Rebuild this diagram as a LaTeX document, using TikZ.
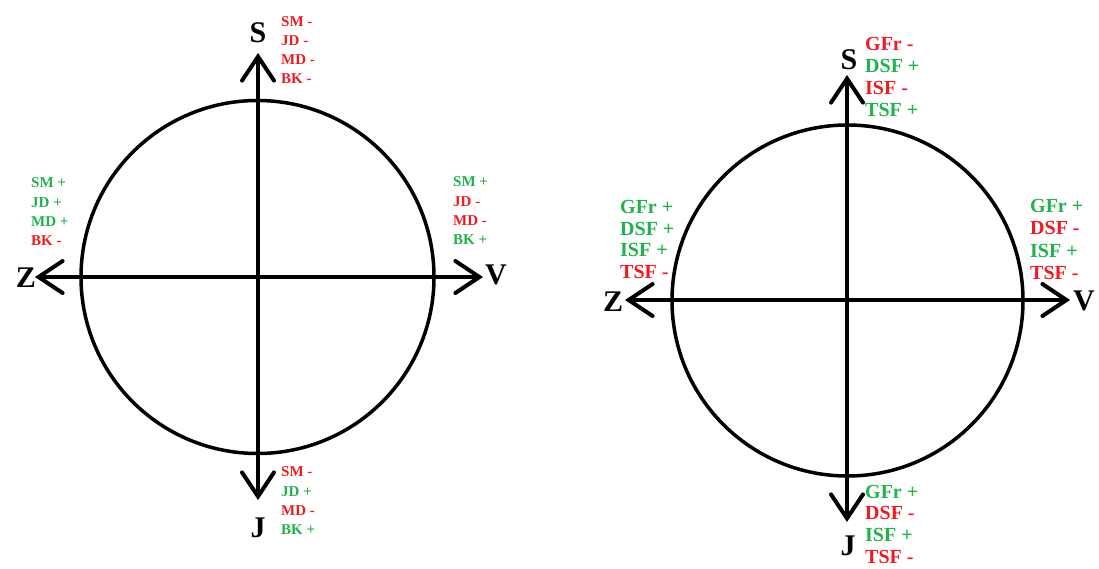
\documentclass[tikz,border=0pt]{standalone}
\usepackage{fontspec}
\setmainfont{Liberation Serif}
\usetikzlibrary{arrows.meta}
\definecolor{pred}{RGB}{237,28,36}
\definecolor{pgreen}{RGB}{34,177,76}
\begin{document}
\begin{tikzpicture}[x=1pt,y=-1pt,
  axis/.style={line width=4pt,{Straight Barb[length=24pt,width=32pt,line cap=round]}-{Straight Barb[length=24pt,width=32pt,line cap=round]}},
  ring/.style={circle,draw,line width=3.5pt,inner sep=0pt},
  big/.style={inner sep=0pt,font=\bfseries\fontsize{30}{30}\selectfont},
  lblA/.style={anchor=west,inner sep=0pt,font=\bfseries\fontsize{15}{15}\selectfont},
  lblB/.style={anchor=west,inner sep=0pt,font=\bfseries\fontsize{20}{20}\selectfont}]
\useasboundingbox (0,0) rectangle (1099,568);
% ---------- left diagram ----------
\node[ring,minimum size=353pt] (c1) at (257.5,277) {};
\coordinate (n1) at (258,53);
\coordinate (s1) at (258,500);
\coordinate (w1) at (35,277);
\coordinate (e1) at (483,277);
\draw[axis] (s1) -- (n1);
\draw[axis] (w1) -- (e1);
\node[big] (S1) at (258,33) {S};
\node[big] (J1) at (258,528) {J};
\node[big] (Z1) at (26,278) {Z};
\node[big] (V1) at (496,275) {V};
\foreach \t/\c [count=\i] in {SM -/pred,JD -/pred,MD -/pred,BK -/pred}
  \node[lblA,text=\c] (at\i) at (281,{22+19*(\i-1)}) {\t};
\foreach \t/\c [count=\i] in {SM +/pgreen,JD +/pgreen,MD +/pgreen,BK -/pred}
  \node[lblA,text=\c] (aw\i) at (31,{183+19.3*(\i-1)}) {\t};
\foreach \t/\c [count=\i] in {SM +/pgreen,JD -/pred,MD -/pred,BK +/pgreen}
  \node[lblA,text=\c] (ae\i) at (453,{182+19.3*(\i-1)}) {\t};
\foreach \t/\c [count=\i] in {SM -/pred,JD +/pgreen,MD -/pred,BK +/pgreen}
  \node[lblA,text=\c] (ab\i) at (281,{472+19.3*(\i-1)}) {\t};
% ---------- right diagram ----------
\node[ring,minimum size=351pt] (c2) at (847.5,300.5) {};
\coordinate (n2) at (847,75);
\coordinate (s2) at (847,522);
\coordinate (w2) at (625,300);
\coordinate (e2) at (1070,300);
\draw[axis] (s2) -- (n2);
\draw[axis] (w2) -- (e2);
\node[big] (S2) at (849,60) {S};
\node[big] (J2) at (848,546) {J};
\node[big] (Z2) at (613,302) {Z};
\node[big] (V2) at (1084,301) {V};
\foreach \t/\c [count=\i] in {GFr -/pred,DSF +/pgreen,ISF -/pred,TSF +/pgreen}
  \node[lblB,text=\c] (bt\i) at (865,{43.5+22.2*(\i-1)}) {\t};
\foreach \t/\c [count=\i] in {GFr +/pgreen,DSF +/pgreen,ISF +/pgreen,TSF -/pred}
  \node[lblB,text=\c] (bw\i) at (620,{207+21.7*(\i-1)}) {\t};
\foreach \t/\c [count=\i] in {GFr +/pgreen,DSF -/pred,ISF +/pgreen,TSF -/pred}
  \node[lblB,text=\c] (be\i) at (1030,{206+22.3*(\i-1)}) {\t};
\foreach \t/\c [count=\i] in {GFr +/pgreen,DSF -/pred,ISF +/pgreen,TSF -/pred}
  \node[lblB,text=\c] (bb\i) at (865,{491.5+21.9*(\i-1)}) {\t};
\end{tikzpicture}
\end{document}
